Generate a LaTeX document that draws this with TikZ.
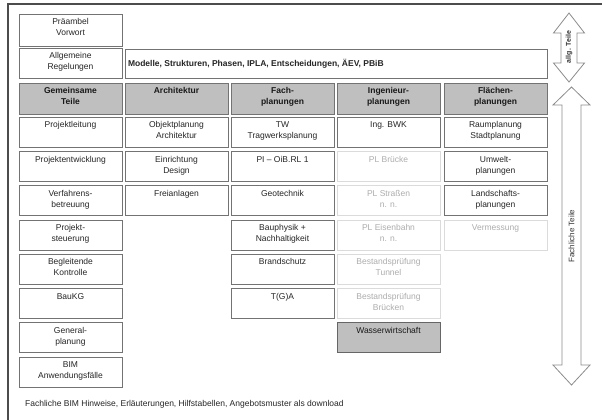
\documentclass[tikz,border=0pt]{standalone}
\usepackage{fontspec}
\setmainfont{Liberation Sans}
\newcommand{\bt}[2][24pt]{\parbox[t][#1][t]{99pt}{\centering\strut #2}}
\begin{document}
\begin{tikzpicture}[x=1pt,y=-1pt,
  box/.style={draw=black!55, line width=0.8pt, fill=white, anchor=north west,
    inner xsep=2pt, inner ysep=3pt, outer sep=0pt,
    font=\fontsize{8.5}{11}\selectfont, text=black!85},
  head/.style={box, fill=black!25, font=\fontsize{8.5}{11}\selectfont\bfseries, text=black!90},
  faint/.style={box, draw=black!14, text=black!32},
  water/.style={box, fill=black!25, draw=black!60, text=black!90},
  arrowshape/.style={draw=black!45, line width=0.8pt, fill=white, line join=miter},
  sidelabel/.style={rotate=90, text=black!80, inner sep=0pt}]
\useasboundingbox (0,0) rectangle (602,420);
\fill[white] (0,0) rectangle (602,420);
\draw[black!70, line width=1.4pt] (8,420) -- (8,4) -- (602,4);

% top rows
\node[box] (pre) at (19,14) {\bt[26pt]{Präambel\\Vorwort}};
\node[box] (allg) at (19,48) {\bt{Allgemeine\\Regelungen}};
\node[box, minimum height=29pt, inner xsep=3pt] (mod) at (125,49)
  {\parbox{416pt}{\bfseries Modelle, Strukturen, Phasen, IPLA, Entscheidungen, ÄEV, PBiB}};

% headers
\node[head] (h1) at (19,83) {\bt[25pt]{Gemeinsame\\Teile}};
\node[head] (h2) at (125,83) {\bt[25pt]{Architektur}};
\node[head] (h3) at (231,83) {\bt[25pt]{Fach-\\planungen}};
\node[head] (h4) at (337,83) {\bt[25pt]{Ingenieur-\\planungen}};
\node[head] (h5) at (444,83) {\bt[25pt]{Flächen-\\planungen}};

% column 1
\node[box] (a1) at (19,117)   {\bt{Projektleitung}};
\node[box] (a2) at (19,151.3) {\bt{Projektentwicklung}};
\node[box] (a3) at (19,185.6) {\bt{Verfahrens-\\betreuung}};
\node[box] (a4) at (19,220)   {\bt{Projekt-\\steuerung}};
\node[box] (a5) at (19,254.2) {\bt{Begleitende\\Kontrolle}};
\node[box] (a6) at (19,288.5) {\bt{BauKG}};
\node[box] (a7) at (19,322.8) {\bt{General-\\planung}};
\node[box] (a8) at (19,357)   {\bt{BIM\\Anwendungsfälle}};

% column 2
\node[box] (b1) at (125,117)   {\bt{Objektplanung\\Architektur}};
\node[box] (b2) at (125,151.3) {\bt{Einrichtung\\Design}};
\node[box] (b3) at (125,185.6) {\bt{Freianlagen}};

% column 3
\node[box] (c1) at (231,117)   {\bt{TW\\Tragwerksplanung}};
\node[box] (c2) at (231,151.3) {\bt{PI – OiB.RL 1}};
\node[box] (c3) at (231,185.6) {\bt{Geotechnik}};
\node[box] (c4) at (231,220)   {\bt{Bauphysik +\\Nachhaltigkeit}};
\node[box] (c5) at (231,254.2) {\bt{Brandschutz}};
\node[box] (c6) at (231,288.5) {\bt{T(G)A}};

% column 4
\node[box]   (d1) at (337,117)   {\bt{Ing. BWK}};
\node[faint] (d2) at (337,151.3) {\bt{PL Brücke}};
\node[faint] (d3) at (337,185.6) {\bt{PL Straßen\\n. n.}};
\node[faint] (d4) at (337,220)   {\bt{PL Eisenbahn\\n. n.}};
\node[faint] (d5) at (337,254.2) {\bt{Bestandsprüfung\\Tunnel}};
\node[faint] (d6) at (337,288.5) {\bt{Bestandsprüfung\\Brücken}};
\node[water] (d7) at (337,322.8) {\bt{Wasserwirtschaft}};

% column 5
\node[box]   (e1) at (444,117)   {\bt{Raumplanung\\Stadtplanung}};
\node[box]   (e2) at (444,151.3) {\bt{Umwelt-\\planungen}};
\node[box]   (e3) at (444,185.6) {\bt{Landschafts-\\planungen}};
\node[faint] (e4) at (444,220)   {\bt{Vermessung}};

% footer
\node[anchor=base west, inner sep=0pt, font=\fontsize{8.5}{11}\selectfont, text=black!85] (foot) at (25,406)
  {Fachliche BIM Hinweise, Erläuterungen, Hilfstabellen, Angebotsmuster als download};

% side arrows
\draw[arrowshape] (569,13) -- (584.5,33) -- (577,33) -- (577,63) -- (584.5,63) -- (569,82)
  -- (553.5,63) -- (561,63) -- (561,33) -- (553.5,33) -- cycle;
\node[sidelabel, font=\fontsize{7}{8}\selectfont\bfseries] (allgT) at (569,47) {allg. Teile};
\draw[arrowshape] (571.5,87) -- (590,105) -- (581,105) -- (581,365) -- (590,365) -- (571.5,385)
  -- (553,365) -- (562,365) -- (562,105) -- (553,105) -- cycle;
\node[sidelabel, font=\fontsize{8}{10}\selectfont] (fachT) at (571.5,236) {Fachliche Teile};
\end{tikzpicture}
\end{document}
